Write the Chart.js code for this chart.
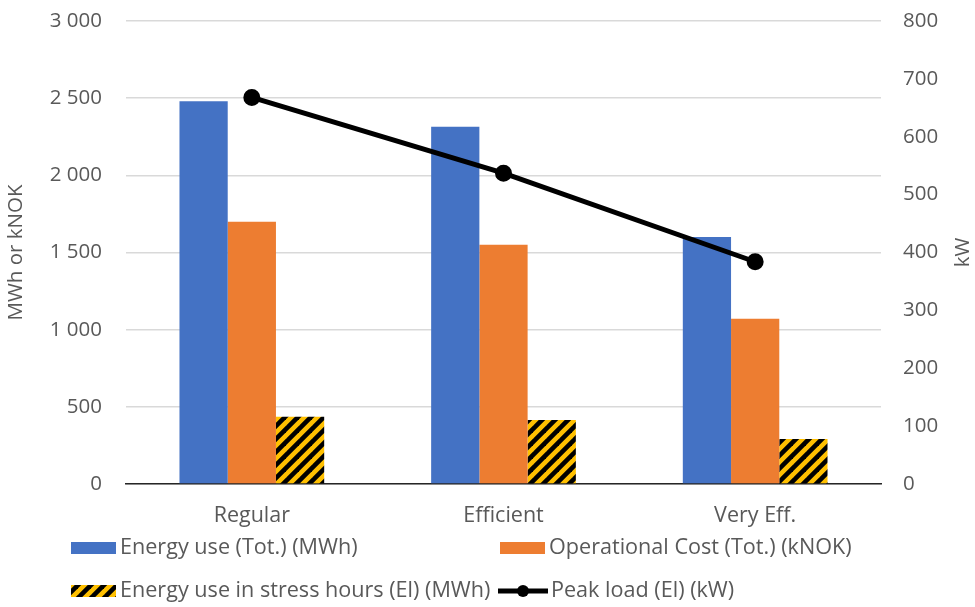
<!DOCTYPE html>
<html>
<head>
<meta charset="utf-8">
<script src="https://cdn.jsdelivr.net/npm/chart.js@4/dist/chart.umd.min.js"></script>
<style>
  html, body { margin: 0; padding: 0; background: #fff; }
  #wrap { width: 975px; height: 607px; }
</style>
</head>
<body>
<div id="wrap"><canvas id="c" width="975" height="607"></canvas></div>
<script>
// Categories and series
const categories = ['Regular', 'Efficient', 'Very Eff.'];
const energyUse = [2480, 2315, 1600];        // MWh
const operationalCost = [1700, 1550, 1070];  // kNOK
const stressHoursEnergy = [435, 415, 292];   // MWh
const peakLoad = [668, 537, 384];            // kW

const seriesNames = [
  'Energy use (Tot.) (MWh)',
  'Operational Cost (Tot.) (kNOK)',
  'Energy use in stress hours (El) (MWh)',
  'Peak load (El) (kW)'
];

const FONT = '"Open Sans", Lato, sans-serif';
const TEXT = '#595959';
const FS = 20.5;     // value-axis ticks and titles
const FS_CAT = 21.5; // category labels
const FS_LEG = 21.6; // legend entries

// Yellow/black hazard stripes
function makeStripes() {
  const s = 13;
  const t = document.createElement('canvas');
  t.width = s; t.height = s;
  const g = t.getContext('2d');
  g.fillStyle = '#FFC000';
  g.fillRect(0, 0, s, s);
  g.strokeStyle = '#000';
  g.lineWidth = 4.6;
  for (const c of [0, s, 2 * s]) {
    g.beginPath();
    g.moveTo(-2, c + 2);
    g.lineTo(c + 2, -2);
    g.stroke();
  }
  return g.createPattern(t, 'repeat');
}
const stripes = makeStripes();

function fmtThousands(v) {
  return String(v).replace(/\B(?=(\d{3})+(?!\d))/g, ' ');
}

// Value axes keep a fixed width and do not reserve room for tick overflow
function fixAxis(width) {
  return s => { s.width = width; s.paddingTop = 0; s.paddingBottom = 0; };
}

// Legend and right-axis title drawn on the canvas
const extras = {
  id: 'extras',
  afterDraw(chart) {
    const ctx = chart.ctx;
    ctx.save();
    ctx.fillStyle = TEXT;
    ctx.textBaseline = 'middle';

    // right axis title, reading bottom to top
    const area = chart.chartArea;
    ctx.save();
    ctx.font = FS + 'px ' + FONT;
    ctx.translate(963, (area.top + area.bottom) / 2);
    ctx.rotate(-Math.PI / 2);
    ctx.textAlign = 'center';
    ctx.fillText('kW', 0, 0);
    ctx.restore();

    ctx.font = FS_LEG + 'px ' + FONT;
    const items = [
      { x: 71, y: 548, kind: 'box', fill: '#4472C4', text: seriesNames[0] },
      { x: 500, y: 548, kind: 'box', fill: '#ED7D31', text: seriesNames[1] },
      { x: 71, y: 591, kind: 'box', fill: stripes, text: seriesNames[2] },
      { x: 498, y: 591, kind: 'line', text: seriesNames[3] }
    ];
    for (const it of items) {
      if (it.kind === 'box') {
        ctx.fillStyle = it.fill;
        ctx.fillRect(it.x, it.y - 6, 45, 12);
        ctx.fillStyle = TEXT;
        ctx.fillText(it.text, it.x + 49, it.y);
      } else {
        ctx.strokeStyle = '#000';
        ctx.lineWidth = 5;
        ctx.beginPath();
        ctx.moveTo(it.x, it.y);
        ctx.lineTo(it.x + 50, it.y);
        ctx.stroke();
        ctx.fillStyle = '#000';
        ctx.beginPath();
        ctx.arc(it.x + 25, it.y, 6, 0, Math.PI * 2);
        ctx.fill();
        ctx.fillStyle = TEXT;
        ctx.fillText(it.text, it.x + 53, it.y);
      }
    }
    ctx.restore();
  }
};

new Chart(document.getElementById('c'), {
  data: {
    labels: categories,
    datasets: [
      {
        type: 'line', label: seriesNames[3], data: peakLoad, yAxisID: 'y1',
        borderColor: '#000', backgroundColor: '#000', borderWidth: 5,
        pointRadius: 6, pointHoverRadius: 6, tension: 0, order: 0
      },
      {
        type: 'bar', label: seriesNames[0], data: energyUse, yAxisID: 'y',
        backgroundColor: '#4472C4', order: 1,
        categoryPercentage: 0.575, barPercentage: 1
      },
      {
        type: 'bar', label: seriesNames[1], data: operationalCost, yAxisID: 'y',
        backgroundColor: '#ED7D31', order: 1,
        categoryPercentage: 0.575, barPercentage: 1
      },
      {
        type: 'bar', label: seriesNames[2], data: stressHoursEnergy, yAxisID: 'y',
        backgroundColor: stripes, order: 1,
        categoryPercentage: 0.575, barPercentage: 1
      }
    ]
  },
  options: {
    responsive: false,
    animation: false,
    devicePixelRatio: 1,
    layout: { padding: { top: 21, bottom: 73, left: 0, right: 0 } },
    plugins: { legend: { display: false }, tooltip: { enabled: false } },
    scales: {
      x: {
        grid: { display: false },
        border: { color: '#262626', width: 1.5 },
        ticks: { color: TEXT, font: { family: FONT, size: FS_CAT }, padding: 11 },
        afterFit(s) { s.height = 50; }
      },
      y: {
        position: 'left', min: 0, max: 3000,
        ticks: { stepSize: 500, color: TEXT, font: { family: FONT, size: FS }, padding: 24,
                 callback: v => fmtThousands(v) },
        grid: { color: '#d9d9d9', lineWidth: 1.5, drawTicks: false },
        border: { display: false },
        title: { display: true, text: 'MWh or kNOK', color: TEXT,
                 font: { family: FONT, size: FS }, padding: { top: 4, bottom: 0 } },
        afterFit: fixAxis(126)
      },
      y1: {
        position: 'right', min: 0, max: 800,
        ticks: { stepSize: 100, color: TEXT, font: { family: FONT, size: FS }, padding: 22 },
        grid: { display: false, drawTicks: false },
        border: { display: false },
        afterFit: fixAxis(94)
      }
    }
  },
  plugins: [extras]
});
</script>
</body>
</html>
